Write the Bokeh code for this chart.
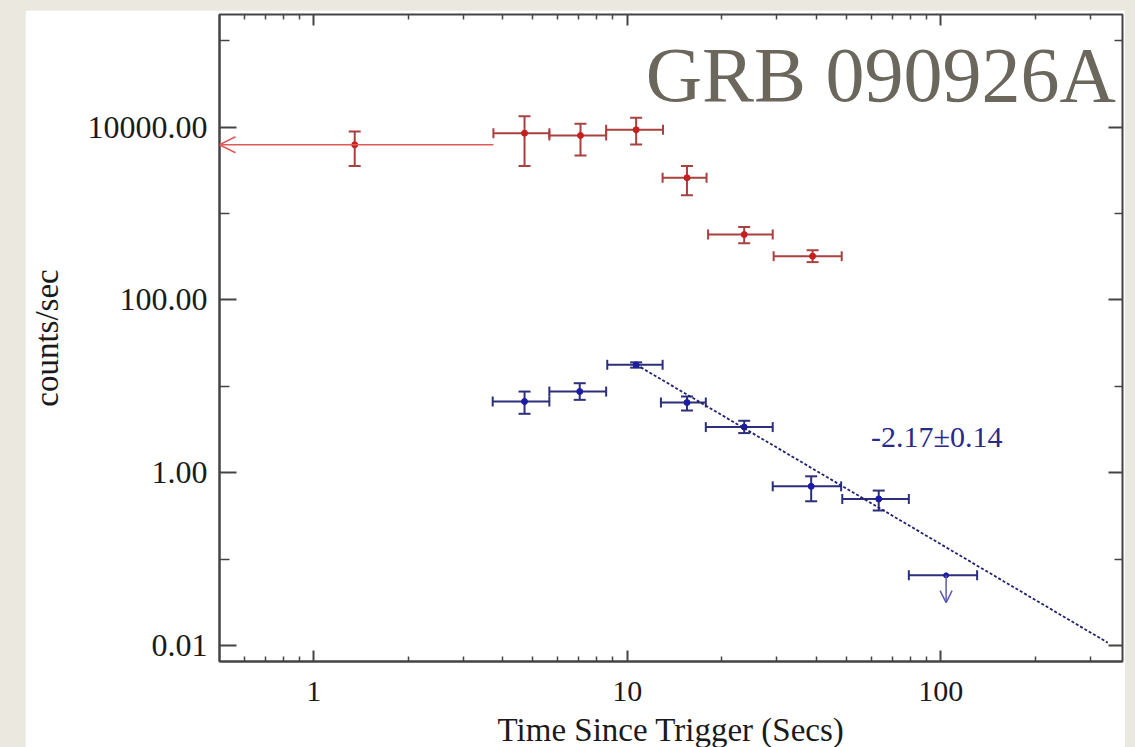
from bokeh.plotting import figure
from bokeh.embed import file_html
from bokeh.resources import INLINE
from bokeh.layouts import row, column
from bokeh.models import (ColumnDataSource, Whisker, TeeHead, Arrow, OpenHead, Label,
                          LogAxis, FixedTicker, PrintfTickFormatter, CustomJSTickFormatter, Spacer)

# ---------------- data ----------------
# red series (upper light curve)
t_red = [1.35, 4.70, 7.09, 10.67, 15.5, 23.6, 39.0]
t_red_lo = [0.5, 3.74, 5.64, 8.56, 12.96, 18.1, 29.3]
t_red_hi = [3.74, 5.64, 8.56, 13.0, 17.9, 29.1, 48.3]
red_rate = [6230, 8490, 7980, 9290, 2590, 571, 321]
red_lo = [3530, 3530, 4690, 6280, 1620, 453, 274]
red_hi = [8870, 13330, 10890, 12770, 3530, 699, 377]

# blue series (lower light curve)
t_blue = [4.70, 7.05, 10.67, 15.5, 23.6, 38.6, 63.4]
t_blue_lo = [3.72, 5.64, 8.63, 12.8, 17.8, 29.1, 48.5]
t_blue_hi = [5.64, 8.56, 12.96, 17.8, 29.1, 48.1, 79.1]
blue_rate = [6.70, 8.73, 17.8, 6.52, 3.39, 0.70, 0.50]
blue_lo = [4.83, 7.0, 16.5, 5.27, 2.89, 0.47, 0.367]
blue_hi = [8.73, 10.9, 19.0, 7.65, 4.01, 0.914, 0.625]

# blue upper limit
t_ul = [104.0]
t_ul_lo = [79.1]
t_ul_hi = [130.6]
ul_rate = [0.0654]
ul_arrow_end = [0.0317]

# power-law fit line
fit_t = [10.7, 341.0]
fit_rate = [17.8, 0.0109]
fit_label = "-2.17±0.14"

title_text = "GRB 090926A"
x_title = "Time Since Trigger (Secs)"
y_title = "counts/sec"

x_major = [1, 10, 100]
x_minor = [0.6, 0.7, 0.8, 0.9, 2, 3, 4, 5, 6, 7, 8, 9,
           20, 30, 40, 50, 60, 70, 80, 90, 200, 300]
y_major = [0.01, 1, 100, 10000]
y_minor = [0.1, 10, 1000, 100000]

# ---------------- styles ----------------
FONT = "Liberation Serif"
RED_BAR = "#a8403f"
RED_PT = "#c81e1e"
RED_LIGHT = "#e05a5a"
BLUE_BAR = "#2d2f7a"
BLUE_PT = "#1b1ba5"
AX = "#444444"

p = figure(width=1100, height=770, x_axis_type="log", y_axis_type="log",
           x_range=(0.5, 380), y_range=(0.0066, 2.0e5),
           output_backend="svg", toolbar_location=None,
           min_border_left=192, min_border_right=3, min_border_top=4, min_border_bottom=119,
           background_fill_color="white", border_fill_color="white")
p.xgrid.visible = False
p.ygrid.visible = False
p.outline_line_color = AX
p.outline_line_width = 2

xa = p.xaxis[0]
xa.ticker = FixedTicker(ticks=x_major, minor_ticks=x_minor)
xa.formatter = PrintfTickFormatter(format="%d")
ya = p.yaxis[0]
ya.ticker = FixedTicker(ticks=y_major, minor_ticks=y_minor)
ya.formatter = PrintfTickFormatter(format="%.2f")

for ax in (xa, ya):
    ax.axis_line_color = AX
    ax.axis_line_width = 2
    ax.major_tick_line_color = AX
    ax.minor_tick_line_color = AX
    ax.major_tick_line_width = 2
    ax.minor_tick_line_width = 1.5
    ax.major_tick_out = 0
    ax.minor_tick_out = 0
    ax.major_label_text_font = FONT
    ax.major_label_text_color = "#1a1a1a"
    ax.axis_label_text_font = FONT
    ax.axis_label_text_font_size = "33px"
    ax.axis_label_text_font_style = "normal"
    ax.axis_label_text_color = "#1a1a1a"

xa.major_label_text_font_size = "30px"
xa.major_tick_in = 11
xa.minor_tick_in = 5
xa.major_label_standoff = 20
xa.axis_label = x_title
xa.axis_label_standoff = 8
ya.major_label_text_font_size = "32px"
ya.major_tick_in = 17
ya.minor_tick_in = 10
ya.major_label_standoff = 12
ya.axis_label = y_title
ya.axis_label_standoff = 20

blank = CustomJSTickFormatter(code="return ''")
top = LogAxis(ticker=FixedTicker(ticks=x_major, minor_ticks=x_minor), formatter=blank,
              major_label_text_font_size="0px", major_label_standoff=0,
              axis_line_color=None, major_tick_out=0, minor_tick_out=0,
              major_tick_in=11, minor_tick_in=5,
              major_tick_line_color=AX, minor_tick_line_color=AX,
              major_tick_line_width=2, minor_tick_line_width=1.5)
p.add_layout(top, "above")
right = LogAxis(ticker=FixedTicker(ticks=y_major, minor_ticks=y_minor), formatter=blank,
                major_label_text_font_size="0px", major_label_standoff=0,
                axis_line_color=None, major_tick_out=0, minor_tick_out=0,
                major_tick_in=14, minor_tick_in=8,
                major_tick_line_color=AX, minor_tick_line_color=AX,
                major_tick_line_width=2, minor_tick_line_width=1.5)
p.add_layout(right, "right")

# ---------------- red series ----------------
red_src = ColumnDataSource(dict(t=t_red, tlo=t_red_lo, thi=t_red_hi,
                                r=red_rate, rlo=red_lo, rhi=red_hi))
red_h_src = ColumnDataSource(dict(t=t_red[1:], tlo=t_red_lo[1:], thi=t_red_hi[1:],
                                  r=red_rate[1:]))
p.add_layout(Whisker(source=red_src, base="t", lower="rlo", upper="rhi", dimension="height",
                     line_color=RED_BAR, line_width=2,
                     lower_head=TeeHead(size=12, line_color=RED_BAR, line_width=2),
                     upper_head=TeeHead(size=12, line_color=RED_BAR, line_width=2)))
p.add_layout(Whisker(source=red_h_src, base="r", lower="tlo", upper="thi", dimension="width",
                     line_color=RED_BAR, line_width=2,
                     lower_head=TeeHead(size=10, line_color=RED_BAR, line_width=2),
                     upper_head=TeeHead(size=10, line_color=RED_BAR, line_width=2)))
p.add_layout(Arrow(x_start=t_red_hi[0], y_start=red_rate[0], x_end=t_red_lo[0], y_end=red_rate[0],
                   line_color=RED_LIGHT, line_width=1.5,
                   end=OpenHead(size=16, line_color=RED_LIGHT, line_width=1.5)))
p.scatter("t", "r", source=red_src, size=6, color=RED_PT)

# ---------------- blue series ----------------
blue_src = ColumnDataSource(dict(t=t_blue, tlo=t_blue_lo, thi=t_blue_hi,
                                 r=blue_rate, rlo=blue_lo, rhi=blue_hi))
p.add_layout(Whisker(source=blue_src, base="t", lower="rlo", upper="rhi", dimension="height",
                     line_color=BLUE_BAR, line_width=2,
                     lower_head=TeeHead(size=12, line_color=BLUE_BAR, line_width=2),
                     upper_head=TeeHead(size=12, line_color=BLUE_BAR, line_width=2)))
p.add_layout(Whisker(source=blue_src, base="r", lower="tlo", upper="thi", dimension="width",
                     line_color=BLUE_BAR, line_width=2,
                     lower_head=TeeHead(size=10, line_color=BLUE_BAR, line_width=2),
                     upper_head=TeeHead(size=10, line_color=BLUE_BAR, line_width=2)))
p.scatter("t", "r", source=blue_src, size=6, color=BLUE_PT)

ul_src = ColumnDataSource(dict(t=t_ul, tlo=t_ul_lo, thi=t_ul_hi, r=ul_rate))
p.add_layout(Whisker(source=ul_src, base="r", lower="tlo", upper="thi", dimension="width",
                     line_color=BLUE_BAR, line_width=2,
                     lower_head=TeeHead(size=10, line_color=BLUE_BAR, line_width=2),
                     upper_head=TeeHead(size=10, line_color=BLUE_BAR, line_width=2)))
p.add_layout(Arrow(x_start=t_ul[0], y_start=ul_rate[0], x_end=t_ul[0], y_end=ul_arrow_end[0],
                   line_color="#5a5ab0", line_width=1.5,
                   end=OpenHead(size=12, line_color="#5a5ab0", line_width=1.5)))
p.scatter("t", "r", source=ul_src, size=5, color=BLUE_PT)

# fit line
p.line(fit_t, fit_rate, line_color="#22226e", line_width=1.8, line_dash="3 2")

p.add_layout(Label(x=59.9, y=2.62, text=fit_label, text_baseline="middle", text_align="left",
                   text_font=FONT, text_font_size="30px", text_color="#2a2a8a"))
p.add_layout(Label(x=362, y=41000, text=title_text, text_baseline="alphabetic", text_align="right",
                   text_font=FONT, text_font_size="78px", text_color="#6b675d"))

layout = row(Spacer(width=25, height=747), column(Spacer(width=1100, height=10), p))

html = file_html(layout, INLINE)
html = html.replace("</head>", "<style>html,body{margin:0;padding:0;background-color:#ebe8e0;overflow:hidden;}</style></head>", 1)
open("out.html", "w").write(html)
